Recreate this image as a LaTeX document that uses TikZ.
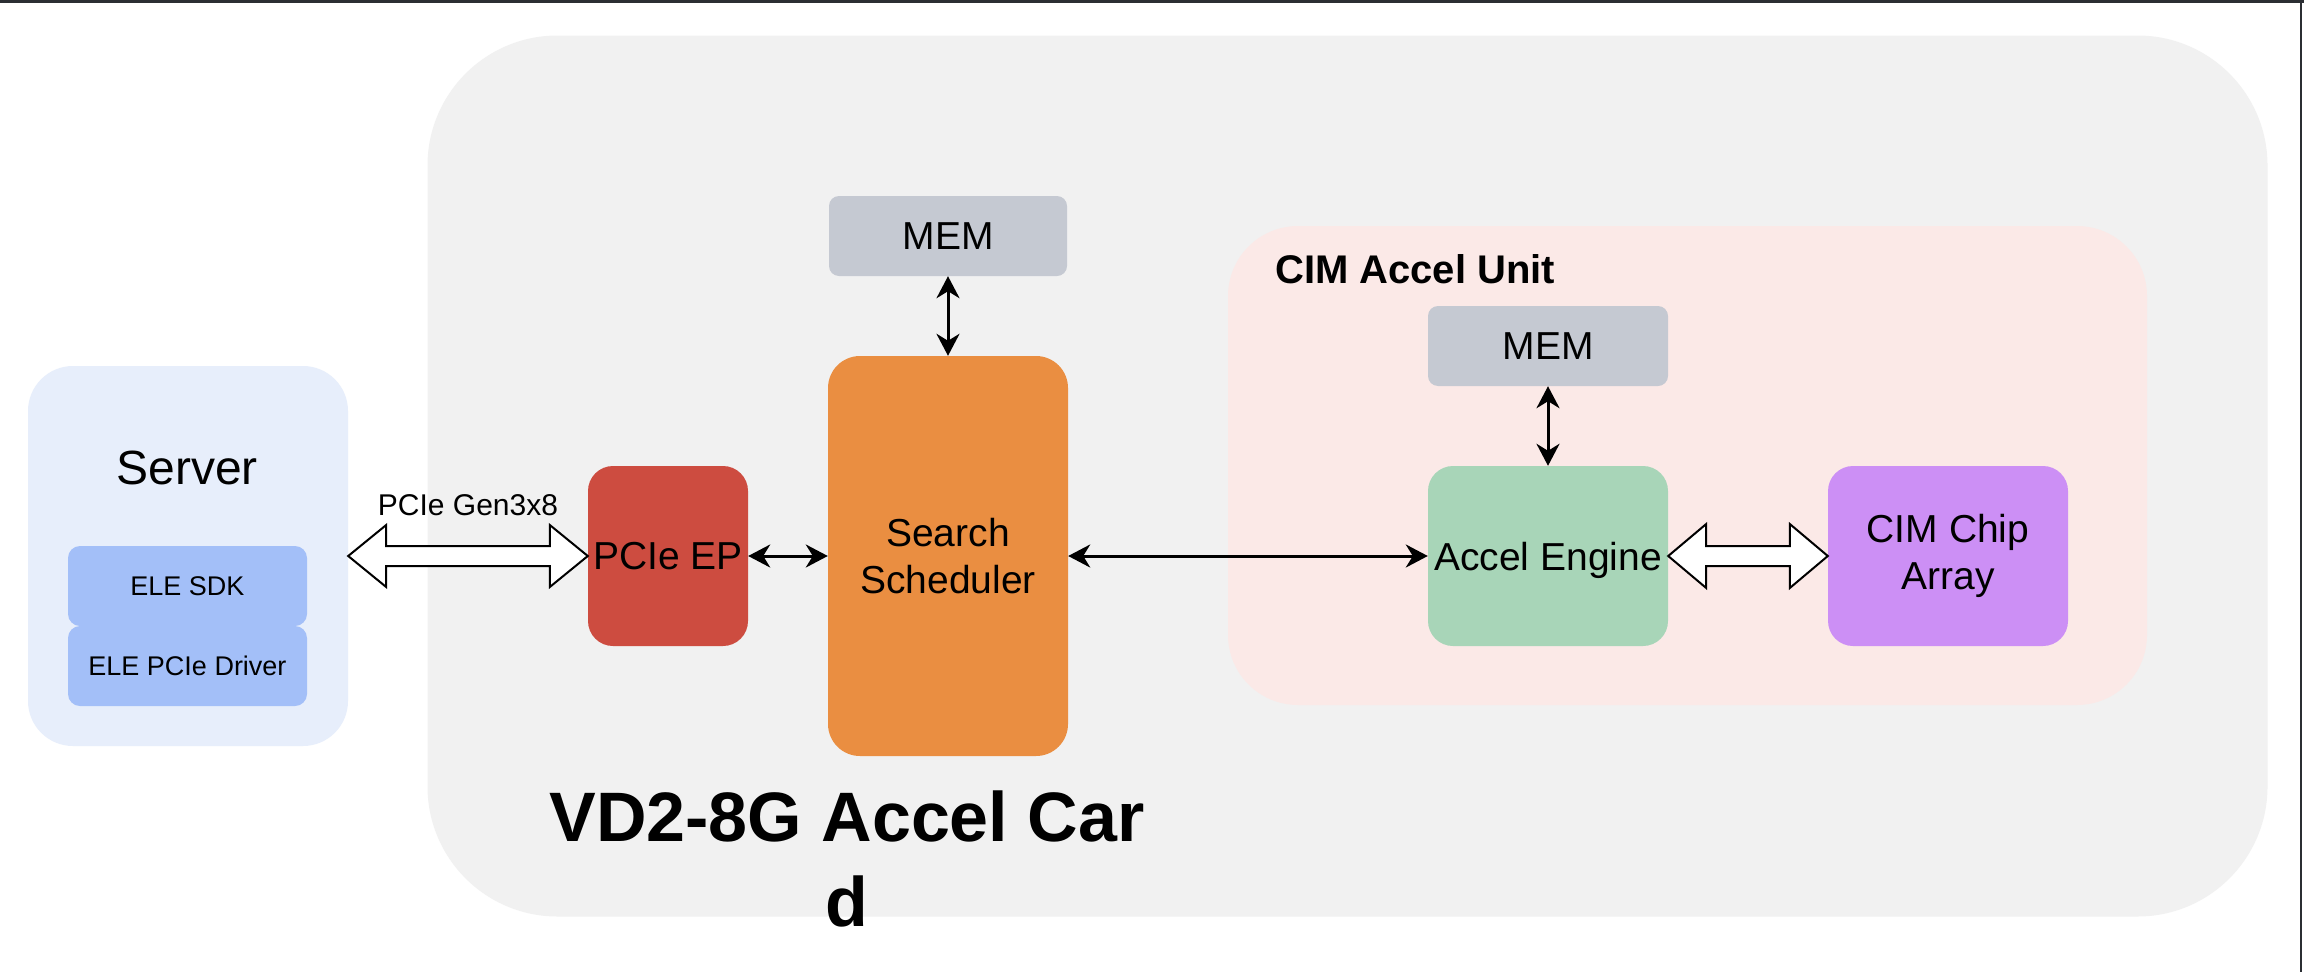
\documentclass[tikz,border=0pt]{standalone}
\usepackage{fontspec}
\setmainfont{Liberation Sans}
\usetikzlibrary{arrows.meta,calc}
\definecolor{cardgray}{HTML}{F1F1F1}
\definecolor{cimpink}{HTML}{FBE9E7}
\definecolor{srvblue}{HTML}{E7EEFB}
\definecolor{eleblue}{HTML}{A3BFF8}
\definecolor{memgray}{HTML}{C5C9D2}
\definecolor{schedorange}{HTML}{EA8E41}
\definecolor{epred}{HTML}{CD4C40}
\definecolor{enggreen}{HTML}{A8D5B8}
\definecolor{chippurple}{HTML}{CC8FF5}
\definecolor{framedark}{HTML}{2B2E33}
\tikzset{
  blockbox/.style={draw=none, rectangle, inner sep=0pt, align=center,
    font=\fontsize{39}{47}\selectfont},
  thinarrow/.style={line width=3pt,
    {Stealth[length=22pt,width=23pt,inset=7pt]}-{Stealth[length=22pt,width=23pt,inset=7pt]}},
  hollowarrow/.style={draw=black, fill=white, line width=2pt, line join=miter},
}
\begin{document}
\begin{tikzpicture}[x=1pt,y=-1pt]
\useasboundingbox (0,0) rectangle (2304,972);
\fill[white] (0,0) rectangle (2304,972);
\fill[framedark] (0,0) rectangle (2304,3);
\fill[framedark] (2299.5,0) rectangle (2301.5,972);

% containers
\node[blockbox, fill=cardgray, rounded corners=130pt, minimum width=1840pt, minimum height=881pt] (card) at (1347.5,476) {};
\node[blockbox, fill=cimpink, rounded corners=70pt, minimum width=919pt, minimum height=479pt] (unit) at (1687.5,465.5) {};
\node[blockbox, fill=srvblue, rounded corners=45pt, minimum width=320pt, minimum height=380pt] (srv) at (188,556) {};

% labels of containers
\node[font=\fontsize{48}{56}\selectfont, inner sep=0pt] (srvlabel) at (187,468) {Server};
\node[font=\bfseries\fontsize{40}{48}\selectfont, inner sep=0pt, anchor=base west] (unitlabel) at (1275,283) {CIM Accel Unit};
\node[font=\bfseries\fontsize{70}{85}\selectfont, inner sep=0pt, align=center] (cardlabel) at (847,858.5) {VD2-8G Accel Car\\d};

% server blocks
\node[blockbox, fill=eleblue, rounded corners=12pt, minimum width=239pt, minimum height=80pt, font=\fontsize{27}{32}\selectfont] (sdk) at (187.5,586) {ELE SDK};
\node[blockbox, fill=eleblue, rounded corners=12pt, minimum width=239pt, minimum height=80pt, font=\fontsize{27}{32}\selectfont] (drv) at (187.5,666) {ELE PCIe Driver};

% card blocks
\node[blockbox, fill=memgray, rounded corners=10pt, minimum width=238pt, minimum height=80pt] (mema) at (948,236) {MEM};
\node[blockbox, fill=schedorange, rounded corners=32pt, minimum width=240pt, minimum height=400pt] (sched) at (948,556) {Search\\Scheduler};
\node[blockbox, fill=epred, rounded corners=25pt, minimum width=160pt, minimum height=180pt] (ep) at (668,556) {PCIe EP};
\node[blockbox, fill=memgray, rounded corners=10pt, minimum width=240pt, minimum height=80pt] (memb) at (1548,346) {MEM};
\node[blockbox, fill=enggreen, rounded corners=25pt, minimum width=240pt, minimum height=180pt, text depth=0pt] (eng) at (1548,556) {Accel Engine};
\node[blockbox, fill=chippurple, rounded corners=25pt, minimum width=240pt, minimum height=180pt] (chip) at (1948,556) {CIM Chip\\Array};

% thin connectors
\draw[thinarrow] (mema.south) -- (sched.north);
\draw[thinarrow] (ep.east) -- (sched.west);
\draw[thinarrow] (sched.east) -- (eng.west);
\draw[thinarrow] (memb.south) -- (eng.north);

% hollow double arrows
\draw[hollowarrow] (srv.east) -- ++(38,-31) -- ++(0,21) -- ($(ep.west)+(-38,-10)$) -- ++(0,-21) -- (ep.west)
  -- ++(-38,31) -- ++(0,-21) -- ($(srv.east)+(38,10)$) -- ++(0,21) -- cycle;
\node[font=\fontsize{30}{36}\selectfont, inner sep=0pt] (pcielabel) at ($(srv.east)!0.5!(ep.west)+(0,-51)$) {PCIe Gen3x8};
\draw[hollowarrow] (eng.east) -- ++(38,-32) -- ++(0,22) -- ($(chip.west)+(-38,-10)$) -- ++(0,-22) -- (chip.west)
  -- ++(-38,32) -- ++(0,-22) -- ($(eng.east)+(38,10)$) -- ++(0,22) -- cycle;
\end{tikzpicture}
\end{document}
